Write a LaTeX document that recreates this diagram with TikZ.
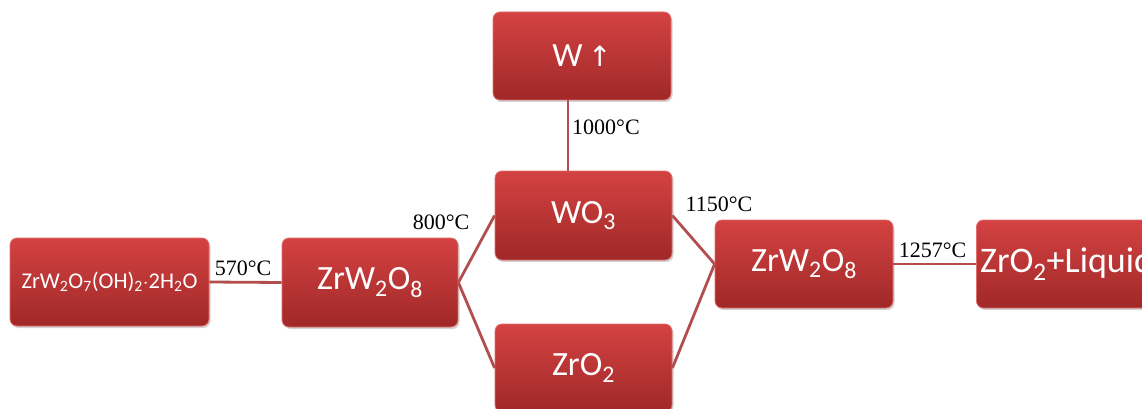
\documentclass[tikz,border=0pt]{standalone}
\usepackage{fontspec}
\setmainfont{Liberation Serif}
\newfontfamily\boxfont{Carlito}
\usetikzlibrary{shadows,calc}
\definecolor{boxtop}{RGB}{212,66,66}
\definecolor{boxbot}{RGB}{160,40,40}
\definecolor{boxedge}{RGB}{225,110,110}
\definecolor{linkcol}{RGB}{178,78,78}
\tikzset{
  rbox/.style={rectangle, rounded corners=7pt, top color=boxtop, bottom color=boxbot,
    draw=boxedge, line width=0.8pt, inner sep=0pt,
    drop shadow={opacity=0.35, shadow xshift=1.5pt, shadow yshift=-2pt},
    text=white, font=\boxfont\fontsize{34}{40}\selectfont},
  link/.style={draw=linkcol, line width=2.8pt},
  temp/.style={inner sep=0pt, font=\fontsize{22}{26}\selectfont, text=black}
}
\begin{document}
\begin{tikzpicture}[x=1pt,y=-1pt]
\useasboundingbox (0,0) rectangle (1142,409);
\clip (0,0) rectangle (1142,409);
% boxes
\node[rbox, minimum width=199pt, minimum height=88pt, font=\boxfont\fontsize{22.5}{26}\selectfont] (src) at (109.5,282) {ZrW\textsubscript{2}O\textsubscript{7}(OH)\textsubscript{2}$\cdot$2H\textsubscript{2}O};
\node[rbox, minimum width=176pt, minimum height=89pt] (z1) at (370,282.5) {ZrW\textsubscript{2}O\textsubscript{8}};
\node[rbox, minimum width=178pt, minimum height=88pt] (w) at (582,56) {W\,\raisebox{0.02em}{\fontspec{DejaVu Sans}\fontsize{28}{30}\selectfont ↑}};
\node[rbox, minimum width=177pt, minimum height=89pt] (wo3) at (583.5,215.5) {WO\textsubscript{3}};
\node[rbox, minimum width=177pt, minimum height=88pt] (zro2) at (583.5,368) {ZrO\textsubscript{2}};
\node[rbox, minimum width=178pt, minimum height=88pt] (z2) at (804,264) {ZrW\textsubscript{2}O\textsubscript{8}};
\node[rbox, minimum width=184pt, minimum height=88pt, anchor=west] (liq) at (976,264) {};
\node[inner sep=0pt, anchor=west, text=white, font=\boxfont\fontsize{36}{40}\selectfont] (liqtext) at ($(liq.west)+(4,0)$) {ZrO\textsubscript{2}+Liquid};
% connectors
\draw[link] (src.east) -- (z1.west);
\draw[link] (z1.east) -- (wo3.west);
\draw[link] (z1.east) -- (zro2.west);
\draw[link] ($(w.south)+(-14,0)$) -- ($(wo3.north)+(-15.5,0)$);
\draw[link] (wo3.east) -- (z2.west);
\draw[link] (zro2.east) -- (z2.west);
\draw[link] (z2.east) -- (liq.west);
% temperature labels
\node[temp, anchor=base] (t570) at (243,275) {570°C};
\node[temp, anchor=base] (t800) at (441,229) {800°C};
\node[temp, anchor=base west] (t1000) at (572,135) {1000°C};
\node[temp, anchor=base] (t1150) at (719,211) {1150°C};
\node[temp, anchor=base] (t1257) at (932.5,257) {1257°C};
\end{tikzpicture}
\end{document}
